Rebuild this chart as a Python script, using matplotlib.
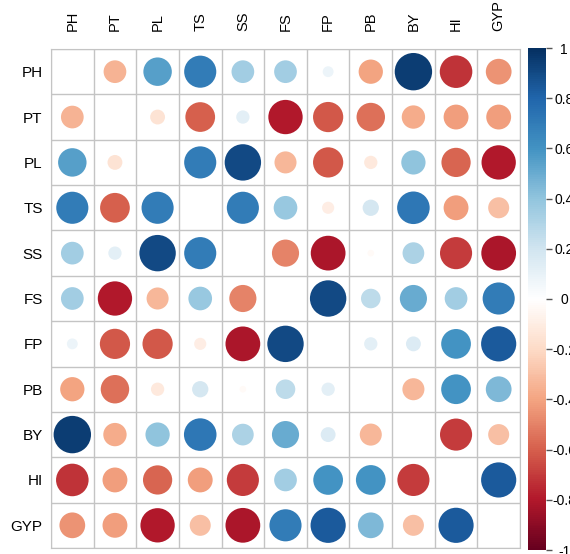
import numpy as np
import matplotlib
matplotlib.use("Agg")
import matplotlib.pyplot as plt
from matplotlib.colors import LinearSegmentedColormap

plt.rcParams['font.family'] = ['Liberation Sans', 'DejaVu Sans']

names = ["PH", "PT", "PL", "TS", "SS", "FS", "FP", "PB", "BY", "HI", "GYP"]

# upper triangle, row by row (values right of the diagonal)
upper = [
    [-0.35, 0.55, 0.70, 0.35, 0.35, 0.08, -0.40, 0.95, -0.72, -0.45],
    [-0.15, -0.60, 0.12, -0.80, -0.62, -0.55, -0.37, -0.42, -0.42],
    [0.70, 0.90, -0.33, -0.62, -0.12, 0.40, -0.58, -0.80],
    [0.70, 0.38, -0.10, 0.18, 0.72, -0.42, -0.30],
    [-0.50, -0.82, -0.03, 0.32, -0.70, -0.82],
    [0.90, 0.26, 0.50, 0.35, 0.70],
    [0.12, 0.15, 0.60, 0.84],
    [-0.33, 0.60, 0.45],
    [-0.70, -0.30],
    [0.84],
]

n = len(names)
corr = np.zeros((n, n))
for i, row in enumerate(upper):
    for k, v in enumerate(row):
        j = i + 1 + k
        corr[i, j] = v
        corr[j, i] = v

cmap = LinearSegmentedColormap.from_list("rdbu", [
    "#67001F", "#B2182B", "#D6604D", "#F4A582", "#FDDBC7", "#FFFFFF",
    "#D1E5F0", "#92C5DE", "#4393C3", "#2166AC", "#053061"])

W, H = 570, 554
fig = plt.figure(figsize=(W / 100, H / 100), dpi=100)
ax = fig.add_axes([51 / W, 6 / H, 469 / W, 499 / H])

xs, ys, vals = [], [], []
for i in range(n):
    for j in range(n):
        if i == j:
            continue
        xs.append(j)
        ys.append(i)
        vals.append(corr[i, j])
vals = np.array(vals)
dmax = 0.9 * 469 / n  # px
sizes = (np.sqrt(np.abs(vals)) * dmax * 0.72) ** 2
ax.scatter(xs, ys, s=sizes, c=vals, cmap=cmap, vmin=-1, vmax=1,
           edgecolors='none', zorder=3)

ax.set_xlim(-0.5, n - 0.5)
ax.set_ylim(n - 0.5, -0.5)
ax.set_xticks(np.arange(n))
ax.set_yticks(np.arange(n))
ax.set_xticklabels(names, rotation=90, fontsize=10.5)
ax.set_yticklabels(names, fontsize=11)
ax.xaxis.tick_top()
ax.tick_params(length=0, pad=6)
ax.tick_params(axis='x', pad=13)
ax.set_xticks(np.arange(-0.5, n), minor=True)
ax.set_yticks(np.arange(-0.5, n), minor=True)
ax.tick_params(which='minor', length=0)
ax.grid(which='minor', color='#C4C4C4', lw=1, zorder=1)
ax.grid(which='major', visible=False)
for sp in ax.spines.values():
    sp.set_color('#C4C4C4')

cax = fig.add_axes([528 / W, 4 / H, 18 / W, 502 / H])
sm = plt.cm.ScalarMappable(cmap=cmap, norm=plt.Normalize(-1, 1))
cb = fig.colorbar(sm, cax=cax)
cb.outline.set_visible(False)
ticks = [1, 0.8, 0.6, 0.4, 0.2, 0, -0.2, -0.4, -0.6, -0.8, -1]
cb.set_ticks(ticks)
cb.set_ticklabels(["1", "0.8", "0.6", "0.4", "0.2", "0", "-0.2", "-0.4",
                   "-0.6", "-0.8", "-1"])
cax.tick_params(length=4, width=1, color='#555555', labelsize=10, pad=9)
for lbl in cax.get_yticklabels():
    lbl.set_horizontalalignment('center')

fig.savefig("out.png", dpi=100)
